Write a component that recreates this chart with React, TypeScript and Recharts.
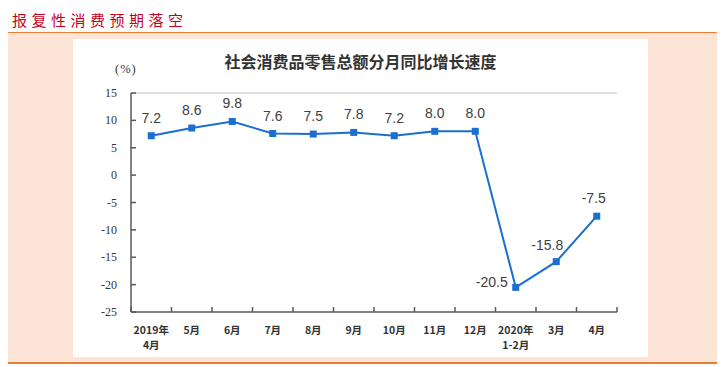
import React from "react";
import {
  LineChart,
  Line,
  XAxis,
  YAxis,
  ReferenceLine,
  LabelList,
} from "recharts";

const categories = [
  "2019年\n4月",
  "5月",
  "6月",
  "7月",
  "8月",
  "9月",
  "10月",
  "11月",
  "12月",
  "2020年\n1-2月",
  "3月",
  "4月",
];
const growth = [7.2, 8.6, 9.8, 7.6, 7.5, 7.8, 7.2, 8.0, 8.0, -20.5, -15.8, -7.5];
const yTicks = [-25, -20, -15, -10, -5, 0, 5, 10, 15];

const chartData = categories.map((month, i) => ({ month, value: growth[i] }));

const PLOT_W = 486;
const BAND = PLOT_W / categories.length;
const AXIS_COLOR = "#595959";
const LINE_COLOR = "#1a6fd1";

function XTick(props: any) {
  const { x, y, payload, index } = props;
  const lines = String(payload.value).split("\n");
  return (
    <g>
      <line x1={x - BAND / 2} x2={x - BAND / 2} y1={y} y2={y - 5} stroke={AXIS_COLOR} strokeWidth={1.5} />
      {index === categories.length - 1 && (
        <line x1={x + BAND / 2} x2={x + BAND / 2} y1={y} y2={y - 5} stroke={AXIS_COLOR} strokeWidth={1.5} />
      )}
      {lines.map((l, i) => (
        <text
          key={i}
          x={x}
          y={y + 22 + i * 15}
          textAnchor="middle"
          fill="#333"
          style={{ fontFamily: "'Noto Sans CJK SC', sans-serif", fontSize: 10.5, fontWeight: "bold" }}
        >
          {l}
        </text>
      ))}
    </g>
  );
}

function YTick(props: any) {
  const { x, y, payload } = props;
  return (
    <g>
      <line x1={x} x2={x + 5} y1={y} y2={y} stroke={AXIS_COLOR} strokeWidth={1.5} />
      <text
        x={x - 14}
        y={y + 4}
        textAnchor="end"
        fill="#333"
        style={{ fontFamily: "'Liberation Serif', serif", fontSize: 12 }}
      >
        {payload.value}
      </text>
    </g>
  );
}

function SquareDot(props: any) {
  const { cx, cy, index } = props;
  return <rect key={index} x={cx - 3.5} y={cy - 3.5} width={7} height={7} fill={LINE_COLOR} />;
}

function ValueLabel(props: any) {
  const { x, y, value, index } = props;
  let tx = x;
  let ty = y - 13;
  let anchor: "middle" | "end" = "middle";
  if (index === 9) {
    tx = x - 8;
    ty = y;
    anchor = "end";
  } else if (index === 10) {
    tx = x - 9;
    ty = y - 12;
  } else if (index === 11) {
    tx = x - 3;
  }
  return (
    <text
      x={tx}
      y={ty}
      textAnchor={anchor}
      fill="#404040"
      style={{ fontFamily: "'Liberation Sans', Arial, sans-serif", fontSize: 14 }}
    >
      {Number(value).toFixed(1)}
    </text>
  );
}

export default function App() {
  return (
    <div
      style={{
        position: "relative",
        width: 725,
        height: 367,
        marginLeft: -8,
        marginTop: -8,
        background: "#fff",
        overflow: "hidden",
      }}
    >
      {/* header band */}
      <div style={{ position: "absolute", left: 3, top: 3, width: 717, height: 1, background: "#ED7D31" }} />
      <div
        style={{
          position: "absolute",
          left: 12,
          top: 9,
          color: "#C8001E",
          fontFamily: "'Noto Sans CJK SC', sans-serif",
          fontSize: 15,
          letterSpacing: 4.5,
          lineHeight: "22px",
        }}
      >
        报复性消费预期落空
      </div>
      <div style={{ position: "absolute", left: 3, top: 32, width: 717, height: 1.5, background: "#ED7D31" }} />
      <div style={{ position: "absolute", left: 3, top: 33, width: 717, height: 329, background: "#FCE4D6" }} />
      <div style={{ position: "absolute", left: 0, top: 362, width: 720, height: 1.5, background: "#ED7D31" }} />
      <div style={{ position: "absolute", left: 73, top: 39, width: 575, height: 318, background: "#fff" }} />

      {/* chart title and unit */}
      <div
        style={{
          position: "absolute",
          left: 73,
          width: 575,
          top: 50,
          textAlign: "center",
          color: "#333",
          fontFamily: "'Noto Sans CJK SC', sans-serif",
          fontSize: 16,
          fontWeight: "bold",
          lineHeight: "22px",
        }}
      >
        社会消费品零售总额分月同比增长速度
      </div>
      <div
        style={{
          position: "absolute",
          left: 115,
          top: 62,
          color: "#333",
          fontFamily: "'Liberation Serif', serif",
          fontSize: 12.5,
          letterSpacing: 1,
        }}
      >
        (%)
      </div>

      <div style={{ position: "absolute", left: 0, top: 0 }}>
        <LineChart
          width={725}
          height={367}
          data={chartData}
          margin={{ top: 93, right: 108, bottom: 15, left: 91 }}
        >
          <XAxis
            dataKey="month"
            scale="band"
            height={40}
            interval={0}
            tickSize={0}
            tickMargin={0}
            axisLine={{ stroke: AXIS_COLOR, strokeWidth: 1.5 }}
            tickLine={false}
            tick={<XTick />}
          />
          <YAxis
            width={40}
            domain={[-25, 15]}
            ticks={yTicks}
            interval={0}
            tickSize={0}
            tickMargin={0}
            axisLine={{ stroke: AXIS_COLOR, strokeWidth: 1.5 }}
            tickLine={false}
            tick={<YTick />}
          />
          <YAxis
            yAxisId="frame"
            orientation="right"
            width={0}
            tick={false}
            tickLine={false}
            axisLine={{ stroke: "#bfbfbf", strokeWidth: 1 }}
          />
          <ReferenceLine y={15} stroke="#bfbfbf" strokeWidth={1} />
          <Line
            type="linear"
            dataKey="value"
            stroke={LINE_COLOR}
            strokeWidth={2}
            dot={<SquareDot />}
            activeDot={false}
            isAnimationActive={false}
          >
            <LabelList dataKey="value" content={<ValueLabel />} />
          </Line>
        </LineChart>
      </div>
    </div>
  );
}
